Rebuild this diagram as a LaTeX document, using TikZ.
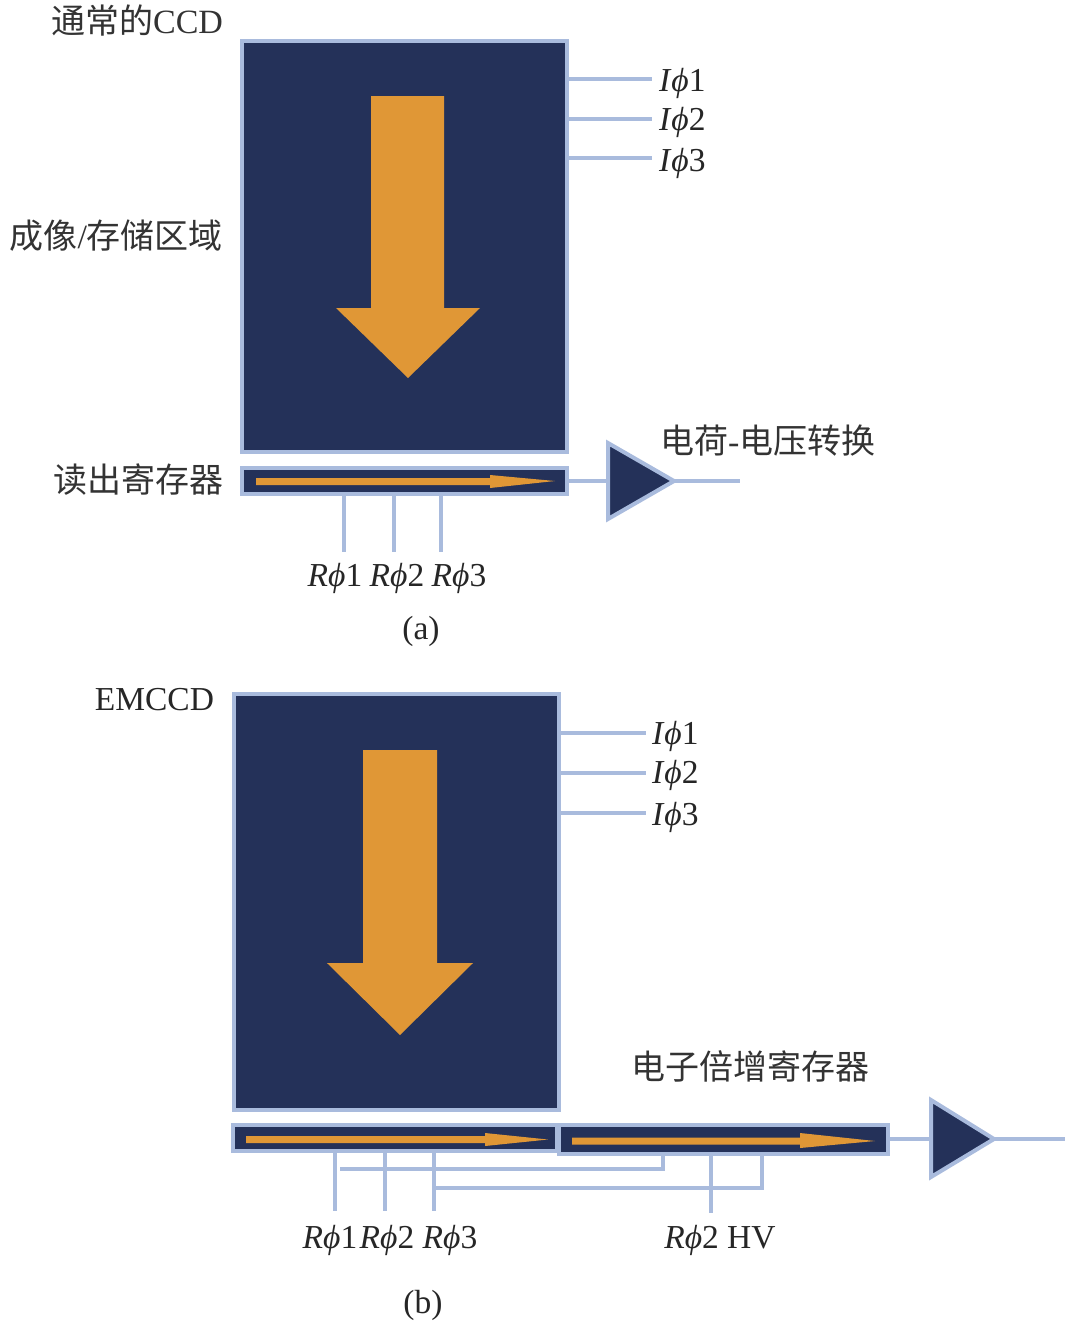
\documentclass[tikz,border=0pt]{standalone}
\usepackage{fontspec}
\setmainfont{Liberation Serif}
\newfontfamily\cjk{Noto Sans CJK SC}
\definecolor{panelnavy}{HTML}{243159}
\definecolor{edgeblue}{HTML}{A9BBDD}
\definecolor{flow}{HTML}{E09736}
\newcommand{\phiv}{\textit{ϕ}}
\tikzset{
  panel/.style={draw=edgeblue,fill=panelnavy,line width=4.5pt,inner sep=0pt,outer sep=0pt,rectangle},
  wire/.style={draw=edgeblue,line width=3.6pt},
  amp/.style={draw=edgeblue,fill=panelnavy,line width=4pt,line join=miter},
  flowshape/.style={fill=flow,draw=none},
  lab/.style={inner sep=0pt,outer sep=0pt,font=\fontsize{33.5}{36}\selectfont,text=black!85},
  zh/.style={inner sep=0pt,outer sep=0pt,font=\fontsize{34}{38}\selectfont\cjk,text=black!80},
}
\begin{document}
\begin{tikzpicture}[x=1pt,y=-1pt]
\useasboundingbox (0,0) rectangle (1080,1326);
% ---------- (a)
\node[panel,minimum width=325pt,minimum height=411pt] (A) at (404.5,246.5) {};
\node[panel,minimum width=325pt,minimum height=26pt] (Ar) at (404.5,481) {};
\foreach \n/\y in {1/79,2/119,3/158}{
  \coordinate (ai\n) at (652,\y);
  \draw[wire] (ai\n -| A.east) -- (ai\n);
}
\foreach \n/\x in {1/344,2/394,3/441}{
  \coordinate (ar\n) at (\x,552);
  \draw[wire] (ar\n |- Ar.south) -- (ar\n);
}
\fill[flowshape] (371,96) -- (444,96) -- (444,308) -- (480,308) -- (408,378) -- (336,308) -- (371,308) -- cycle;
\fill[flowshape] (256,478) -- (490,478) -- (490,475) -- (555,481) -- (490,488) -- (490,485) -- (256,485) -- cycle;
\coordinate (Ain) at (608,481);
\coordinate (Atip) at (674,481);
\coordinate (Aout) at (740,481);
\draw[wire] (Ar.east) -- (Ain);
\draw[wire] (Atip) -- (Aout);
\draw[amp] (608,443) -- (Atip) -- (608,519) -- cycle;
\node[zh,anchor=east] (t1) at (223,21) {\cjk 通常的{\rmfamily CCD}};
\node[zh,anchor=east] (t2) at (223,236) {成像{\rmfamily /}存储区域};
\node[zh,anchor=east] (t3) at (223,480) {读出寄存器};
\node[zh,anchor=west] (t4) at (660,441) {电荷{\rmfamily -}电压转换};
\foreach \n/\y in {1/83,2/122,3/163}{
  \node[lab,anchor=west] (ail\n) at (659,\y) {\textit{I}\phiv\n};
}
\node[lab] (arl1) at (335,578) {\textit{R}\phiv1};
\node[lab] (arl2) at (397,578) {\textit{R}\phiv2};
\node[lab] (arl3) at (459,578) {\textit{R}\phiv3};
\node[lab] (capa) at (421,631) {(a)};
% ---------- (b)
\node[panel,minimum width=325pt,minimum height=416pt] (B) at (396.5,902) {};
\foreach \n/\y in {1/733,2/773,3/813}{
  \coordinate (bi\n) at (646,\y);
  \draw[wire] (bi\n -| B.east) -- (bi\n);
}
\node[panel,minimum width=324pt,minimum height=26pt] (Br) at (395,1138) {};
\node[panel,minimum width=329pt,minimum height=29pt] (Bm) at (723.5,1139.5) {};
\foreach \n/\x in {1/335,2/385,3/434}{
  \coordinate (br\n) at (\x,1211);
  \draw[wire] (br\n |- Br.south) -- (br\n);
}
\coordinate (hv) at (711,1213);
\draw[wire] (hv |- Bm.south) -- (hv);
\coordinate (busa) at (340,1169);
\coordinate (busb) at (663,1169);
\draw[wire,line join=miter] (busa) -- (busb) -- (busb |- Bm.south);
\coordinate (busc) at (762,1188);
\draw[wire,line join=miter] (434,1188) -- (busc) -- (busc |- Bm.south);
\fill[flowshape] (363,750) -- (437,750) -- (437,963) -- (473,963) -- (400,1035) -- (327,963) -- (363,963) -- cycle;
\fill[flowshape] (246,1136) -- (485,1136) -- (485,1133) -- (548,1139.5) -- (485,1146) -- (485,1143) -- (246,1143) -- cycle;
\fill[flowshape] (572,1137.5) -- (800,1137.5) -- (800,1133) -- (875,1141) -- (800,1148) -- (800,1144.5) -- (572,1144.5) -- cycle;
\coordinate (Bin) at (931,1139);
\coordinate (Btip) at (994,1139);
\coordinate (Bout) at (1065,1139);
\draw[wire] (Bm.east |- Bin) -- (Bin);
\draw[wire] (Btip) -- (Bout);
\draw[amp] (931,1100) -- (Btip) -- (931,1177) -- cycle;
\node[lab,anchor=east] (t5) at (214,700) {EMCCD};
\node[zh,anchor=west] (t6) at (631,1066) {电子倍增寄存器};
\foreach \n/\y in {1/736,2/775,3/817}{
  \node[lab,anchor=west] (bil\n) at (652,\y) {\textit{I}\phiv\n};
}
\node[lab] (brl1) at (330,1240) {\textit{R}\phiv1};
\node[lab] (brl2) at (387,1240) {\textit{R}\phiv2};
\node[lab] (brl3) at (450,1240) {\textit{R}\phiv3};
\node[lab] (hvl) at (720,1240) {\textit{R}\phiv2 HV};
\node[lab] (capb) at (423,1305) {(b)};
\end{tikzpicture}
\end{document}
